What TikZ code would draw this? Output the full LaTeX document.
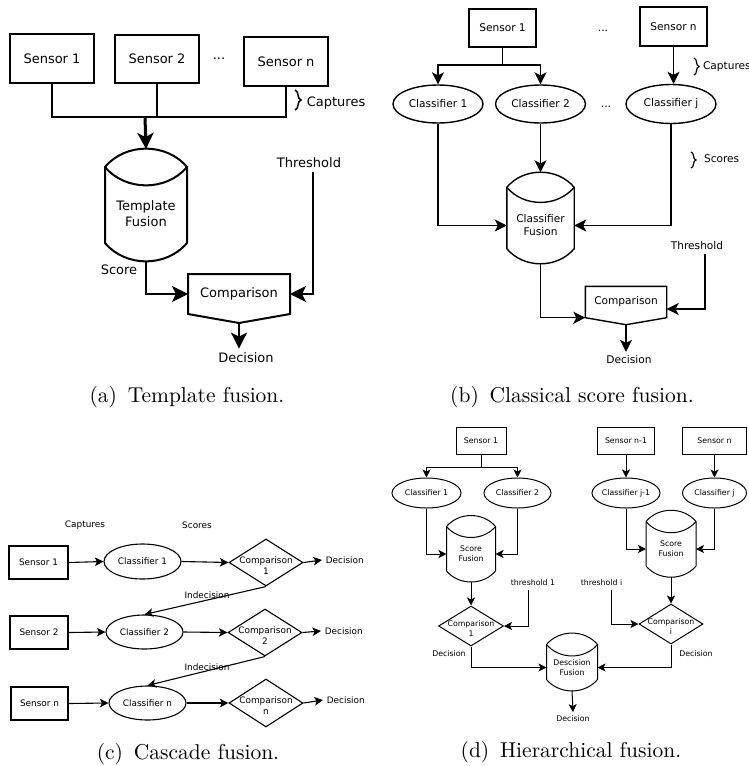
\documentclass[tikz,border=0pt]{standalone}
\usepackage{fontspec}
\newfontfamily\diagfont{DejaVu Sans}
\newfontfamily\capfont{lmroman10-regular.otf}
\usetikzlibrary{arrows.meta, shapes.geometric, decorations.pathreplacing}

\tikzset{
  sensbox/.style 2 args = {draw, rectangle, inner sep = 0pt, minimum width = #1, minimum height = #2},
  clsell/.style 2 args = {draw, ellipse, inner sep = 0pt, minimum width = #1, minimum height = #2},
  cmpdia/.style 2 args = {draw, diamond, inner sep = 0pt, minimum width = #1, minimum height = #2},
  blank/.style 2 args = {rectangle, inner sep = 0pt, minimum width = #1, minimum height = #2, align = center},
  bracket/.style = {decorate, decoration = {brace, amplitude = #1}},
  subcap/.style = {font = \capfont\fontsize{21.5}{26}\selectfont}
}

\newcommand{\drumshape}[2]{%
  \draw (#1.north west) to[bend left = 50] (#1.north east) -- ([yshift = #2]#1.south east)
    to[bend left = 50] ([yshift = #2]#1.south west) -- cycle;
  \draw (#1.north west) to[bend right = 50] (#1.north east);
}
\newcommand{\cmpshape}[2]{%
  \draw (#1.north west) -- (#1.north east) -- (#1.south east) -- ([yshift = -#2]#1.south) -- (#1.south west) -- cycle;
}

\begin{document}
\begin{tikzpicture}[x = 1pt, y = -1pt]
  \useasboundingbox (0,0) rectangle (748,766);

  \begin{scope}[font = \diagfont\fontsize{13}{16}\selectfont, line width = 2pt, > = {Stealth[length = 16pt, width = 16pt, inset = 4pt]}]
    \node[sensbox = {84pt}{49pt}] (sensA1) at (52,58.5) {Sensor 1};
    \node[sensbox = {84pt}{48pt}] (sensA2) at (157,59) {Sensor 2};
    \node (dotsA) at (219,59) {...};
    \node[sensbox = {84pt}{49pt}] (sensAn) at (286,61.5) {Sensor n};
    \node[blank = {80pt}{92pt}] (fusA) at (146,214) {Template\\Fusion};
    \drumshape{fusA}{18pt}
    \node[blank = {100pt}{38pt}] (cmpA) at (239,294) {Comparison};
    \cmpshape{cmpA}{9pt}
    \node (scoreA) at (119,270) {Score};
    \node (thrA) at (309,163) {Threshold};
    \node (decA) at (246,358) {Decision};
    \draw[bracket = 6pt, line width = 1.5pt] (295,90) -- (295,110);
    \node[anchor = west] (captA) at (302.5,103) {Captures};
    \coordinate (busA) at (145,117);
    \draw (sensA1.south) |- (busA) -| (sensAn.south);
    \draw (sensA2.south) -- (sensA2.south |- busA);
    \draw[->, line width = 3pt] (busA) -- ([yshift = 18pt]fusA.north);
    \draw[->] (fusA.south) |- (cmpA.west);
    \draw[->] ([xshift = 4pt]thrA.south) |- (cmpA.east);
    \draw[->] ([yshift = -9pt]cmpA.south) -- (decA.north -| cmpA.south);
  \end{scope}

  \begin{scope}[font = \diagfont\fontsize{10.6}{13}\selectfont, line width = 1.4pt, > = {Stealth[length = 12pt, width = 12pt, inset = 3pt]}]
    \node[sensbox = {67pt}{38pt}] (sensB1) at (502.5,28) {Sensor 1};
    \node (dotsB1) at (603,31) {...};
    \node[sensbox = {67pt}{39pt}] (sensBn) at (673.5,26.5) {Sensor n};
    \node[clsell = {90pt}{38pt}] (clsB1) at (438,104) {Classifier 1};
    \node[clsell = {90pt}{38pt}] (clsB2) at (540.5,104) {Classifier 2};
    \node (dotsB2) at (606,107) {...};
    \node[clsell = {90pt}{39pt}] (clsBj) at (671,104) {Classifier j};
    \node[blank = {66pt}{75pt}] (fusB) at (540.5,225.5) {Classifier\\Fusion};
    \drumshape{fusB}{15pt}
    \node[blank = {80pt}{30pt}] (cmpB) at (626,302) {Comparison};
    \cmpshape{cmpB}{7pt}
    \node (thrB) at (697,246) {Threshold};
    \node (decB) at (629,360) {Decision};
    \draw[bracket = 5pt, line width = 1.2pt] (694,58) -- (694,75);
    \node[anchor = west] (captB) at (699,67) {Captures};
    \draw[bracket = 5pt, line width = 1.2pt] (691,152) -- (691,168);
    \node[anchor = west] (scoB) at (700,159) {Scores};
    \coordinate (busB) at (502.5,65);
    \draw (sensB1.south) -- (busB);
    \draw[->] (busB) -| (clsB1.north);
    \draw[->] (busB) -| (clsB2.north);
    \draw[->] (sensBn.south) -- (sensBn.south |- clsBj.north);
    \draw[->] (clsB1.south) |- (fusB.west);
    \draw[->] (clsB2.south) -- ([yshift = 15pt]fusB.north);
    \draw[->] (clsBj.south) |- (fusB.east);
    \draw[->] (fusB.south) |- (cmpB.south west);
    \draw[->] ([xshift = 8pt]thrB.south) |- ([yshift = -7pt]cmpB.east);
    \draw[->] ([yshift = -7pt]cmpB.south) -- (decB.north -| cmpB.south);
  \end{scope}

  \begin{scope}[font = \diagfont\fontsize{8.9}{11}\selectfont, line width = 1.1pt, > = {Stealth[length = 8.5pt, width = 8.5pt, inset = 2pt]}]
    \node (captC) at (85,525) {Captures};
    \node (scoC) at (197,525) {Scores};
    \node[sensbox = {59pt}{33pt}] (sensC1) at (38.5,562.5) {Sensor 1};
    \node[sensbox = {58pt}{33pt}] (sensC2) at (39,632.5) {Sensor 2};
    \node[sensbox = {57pt}{33pt}] (sensCn) at (39.5,703.5) {Sensor n};
    \node[clsell = {77pt}{35pt}] (clsC1) at (142.5,561.5) {Classifier 1};
    \node[clsell = {77pt}{34pt}] (clsC2) at (144.5,632) {Classifier 2};
    \node[clsell = {77pt}{34pt}] (clsCn) at (147.5,703) {Classifier n};
    \node[cmpdia = {74pt}{47pt}, label = {[align = center, yshift = -3pt]center:Comparison\\1}] (cmpC1) at (266,562.5) {};
    \node[cmpdia = {74pt}{47pt}, label = {[align = center, yshift = -3pt]center:Comparison\\2}] (cmpC2) at (265,632.5) {};
    \node[cmpdia = {74pt}{48pt}, label = {[align = center, yshift = -3pt]center:Comparison\\n}] (cmpCn) at (266,703) {};
    \node[anchor = west] (decC1) at (322,560) {Decision};
    \node[anchor = west] (decC2) at (321,631) {Decision};
    \node[anchor = west] (decCn) at (323,700) {Decision};
    \node (indC1) at (207,595) {Indecision};
    \node (indC2) at (207,667) {Indecision};
    \draw[->] (sensC1.east) -- (clsC1.west);
    \draw[->] (sensC2.east) -- (clsC2.west);
    \draw[->] (sensCn.east) -- (clsCn.west);
    \draw[->] (clsC1.east) -- (cmpC1.west);
    \draw[->] (clsC2.east) -- (cmpC2.west);
    \draw[->] (clsCn.east) -- (cmpCn.west);
    \draw[->] (cmpC1.east) -- (decC1.west);
    \draw[->] (cmpC2.east) -- (decC2.west);
    \draw[->] (cmpCn.east) -- (decCn.west);
    \draw[->] (cmpC1.south) -- (clsC2.north);
    \draw[->] (cmpC2.south) -- (clsCn.north);
  \end{scope}

  \begin{scope}[font = \diagfont\fontsize{7.8}{10}\selectfont, line width = 1pt, > = {Stealth[length = 8pt, width = 8pt, inset = 2pt]}]
    \node[sensbox = {50pt}{27pt}] (sensD1) at (481,440.5) {Sensor 1};
    \node[sensbox = {57pt}{27pt}] (sensDm) at (626,440.5) {Sensor n-1};
    \node[sensbox = {64pt}{27pt}] (sensDn) at (714.5,440.5) {Sensor n};
    \node[clsell = {69pt}{30pt}] (clsD1) at (426.5,493) {Classifier 1};
    \node[clsell = {67pt}{30pt}] (clsD2) at (517.5,493) {Classifier 2};
    \node[clsell = {68pt}{30pt}] (clsDm) at (626,493) {Classifier j-1};
    \node[clsell = {64pt}{30pt}] (clsDn) at (714.5,493) {Classifier j};
    \node[blank = {48pt}{54pt}] (sfD1) at (471,554) {Score\\Fusion};
    \drumshape{sfD1}{10.5pt}
    \node[blank = {49pt}{54pt}] (sfD2) at (671,549) {Score\\Fusion};
    \drumshape{sfD2}{10.5pt}
    \node[cmpdia = {65pt}{40pt}, label = {[align = center, yshift = -3pt]center:Comparison\\1}] (cmpD1) at (471,626) {};
    \node[cmpdia = {64pt}{40pt}, label = {[align = center, yshift = -3pt]center:Comparison\\i}] (cmpDi) at (671,624) {};
    \node (thrD1) at (533,583) {threshold 1};
    \node (thrDi) at (601.5,583) {threshold i};
    \node[blank = {50pt}{45pt}] (dfD) at (572,667.5) {Descision\\Fusion};
    \drumshape{dfD}{11pt}
    \node (decD1) at (449,654) {Decision};
    \node (decD2) at (696,654) {Decision};
    \node (decD) at (573,719) {Decision};
    \coordinate (busD) at (481,467);
    \draw (sensD1.south) -- (busD);
    \draw[->] (busD) -| (clsD1.north);
    \draw[->] (busD) -| (clsD2.north);
    \draw[->] (sensDm.south) -- (clsDm.north);
    \draw[->] (sensDn.south) -- (clsDn.north);
    \draw[->] (clsD1.south) |- (sfD1.west);
    \draw[->] (clsD2.south) |- (sfD1.east);
    \draw[->] (clsDm.south) |- (sfD2.west);
    \draw[->] (clsDn.south) |- (sfD2.east);
    \draw[->] (sfD1.south) -- (cmpD1.north);
    \draw[->] (sfD2.south) -- (cmpDi.north);
    \draw[->] ([xshift = -5pt]thrD1.south) |- (cmpD1.east);
    \draw[->] ([xshift = 10pt]thrDi.south) |- (cmpDi.west);
    \draw[->] (cmpD1.south) |- (dfD.west);
    \draw[->] (cmpDi.south) |- (dfD.east);
    \draw[->] (dfD.south) -- (decD.north);
  \end{scope}

  \node[subcap] (figA) at (187,397) {(a)\enspace Template fusion.};
  \node[subcap] (figB) at (572,397) {(b)\enspace Classical score fusion.};
  \node[subcap] (figC) at (188,754) {(c)\enspace Cascade fusion.};
  \node[subcap] (figD) at (571,752.5) {(d)\enspace Hierarchical fusion.};
\end{tikzpicture}
\end{document}
